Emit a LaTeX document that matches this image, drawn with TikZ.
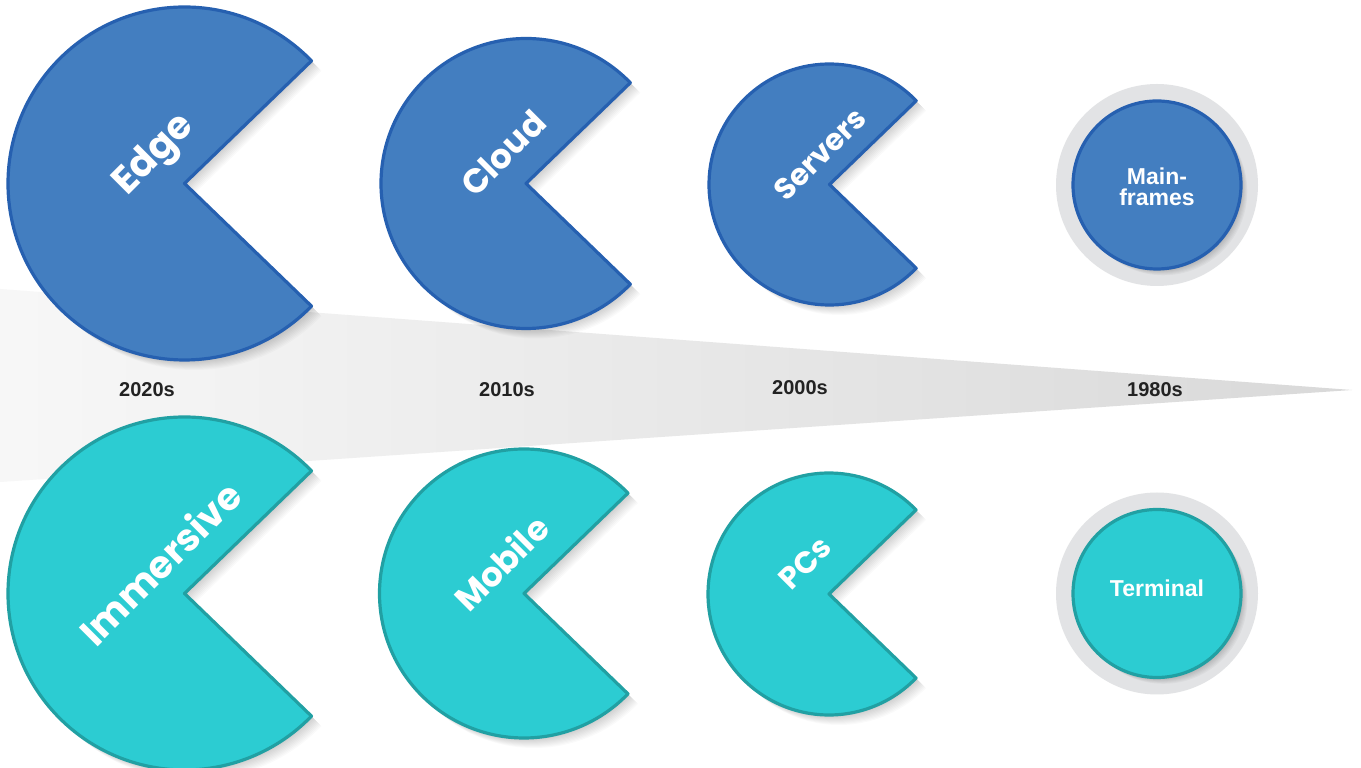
\documentclass[tikz,border=0pt]{standalone}
\usepackage{fontspec}
\setmainfont{Liberation Sans}
\IfFontExistsTF{Poppins Bold}{\newfontfamily\pop{Poppins Bold}}{\newfontfamily\pop{Poppins}[FakeBold=2.5]}
\usetikzlibrary{shadings}
\definecolor{bluefill}{HTML}{437EC0}
\definecolor{blueline}{HTML}{2660B0}
\definecolor{tealfill}{HTML}{2CCCD2}
\definecolor{tealline}{HTML}{21A0A3}
\definecolor{halo}{HTML}{E2E3E5}
\definecolor{yeartext}{HTML}{222222}
\tikzset{
  x=1pt, y=1pt,
  bluepac/.style={fill=bluefill, draw=blueline, line width=3.2pt, line join=round},
  tealpac/.style={fill=tealfill, draw=tealline, line width=3.2pt, line join=round},
  pactext/.style={text=white, rotate=45, inner sep=0pt},
  circtext/.style={text=white, font=\bfseries\fontsize{23}{21}\selectfont, align=center, inner sep=0pt},
  yearlabel/.style={text=yeartext, font=\bfseries\fontsize{20}{22}\selectfont, inner sep=0pt},
}
\newcommand{\pacshape}[4]{% cx cy r style
  \foreach \k in {1,...,10}{
    \fill[black, opacity=0.02] (#1+\k*1.0,#2-\k*1.0) -- ++(44:#3) arc[start angle=44, end angle=316, radius=#3] -- cycle;
  }
  \path[#4] (#1,#2) -- ++(44:#3) arc[start angle=44, end angle=316, radius=#3] -- cycle;
}
\newcommand{\ringshape}[4]{% cx cy r style
  \fill[halo] (#1,#2) circle[radius=101];
  \foreach \k in {1,...,7}{
    \fill[black, opacity=0.03] (#1+\k*0.9,#2-\k*0.9) circle[radius=#3];
  }
  \path[#4] (#1,#2) circle[radius=#3];
}
\begin{document}
\begin{tikzpicture}
\useasboundingbox (0,0) rectangle (1361,768);
\fill[white] (0,0) rectangle (1361,768);
% timeline wedge
\shade[left color=white!97!black, right color=white!85!black] (0,479) -- (1352,378) -- (0,286) -- cycle;
% top row
\pacshape{184.5}{584.5}{176.5}{bluepac}
\pacshape{526}{584.5}{145}{bluepac}
\pacshape{829.5}{583.5}{120.5}{bluepac}
\ringshape{1157}{583}{84}{bluepac}
% bottom row
\pacshape{184.5}{174.5}{176.5}{tealpac}
\pacshape{524}{174.5}{144.5}{tealpac}
\pacshape{829}{174}{121}{tealpac}
\ringshape{1157}{174.5}{84}{tealpac}
% texts
\node[pactext, font=\pop\fontsize{38.5}{40}\selectfont] (edge) at (155,612) {Edge};
\node[pactext, font=\pop\fontsize{34}{36}\selectfont] (cloud) at (503,615) {Cloud};
\node[pactext, font=\pop\fontsize{30}{32}\selectfont] (servers) at (820,614) {Servers};
\node[circtext] (mainframes) at (1157,581) {Main-\\frames};
\node[pactext, font=\pop\fontsize{38}{40}\selectfont] (immersive) at (160,205) {Immersive};
\node[pactext, font=\pop\fontsize{34}{36}\selectfont] (mobile) at (501,205) {Mobile};
\node[pactext, font=\pop\fontsize{30.5}{32}\selectfont] (pcs) at (805,205) {PCs};
\node[circtext] (terminal) at (1157,180) {Terminal};
% years
\node[yearlabel] (y2020) at (147,378) {2020s};
\node[yearlabel] (y2010) at (507,378) {2010s};
\node[yearlabel] (y2000) at (800,380) {2000s};
\node[yearlabel] (y1980) at (1155,378) {1980s};
\end{tikzpicture}
\end{document}
